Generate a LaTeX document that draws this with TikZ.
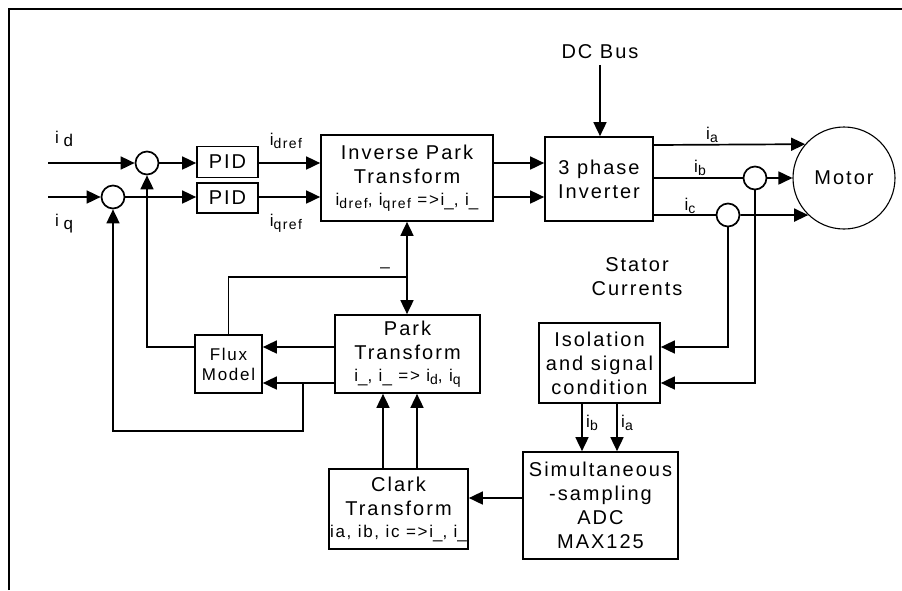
\documentclass[tikz,border=0pt]{standalone}
\usepackage{fontspec}
\setmainfont{Liberation Sans}[LetterSpace=10]
\usetikzlibrary{arrows.meta,calc}
\newcommand\mainsz{\fontsize{20}{24}\selectfont}
\newcommand\labsz{\fontsize{17}{20}\selectfont}
\newcommand\subsz{\fontsize{14}{14}\selectfont}
\newcommand\sbs[1]{\raisebox{-3pt}{\subsz #1}}
\newcommand\iu{i\raisebox{-1pt}{\_}}
\begin{document}
\begin{tikzpicture}[x=1pt,y=-1pt,
  line width=1.7pt,
  box/.style={draw, rectangle, inner sep=0pt, align=center, font=\mainsz},
  sum/.style={draw, circle, minimum size=23pt, inner sep=0pt},
  txt/.style={inner sep=0pt, align=center, font=\mainsz},
  lab/.style={inner sep=0pt, font=\labsz},
  arr/.style={-{Triangle[length=14pt,width=13pt]}},
  arrb/.style={{Triangle[length=14pt,width=13pt]}-{Triangle[length=14pt,width=13pt]}}]
\useasboundingbox (0,0) rectangle (902,590);
\draw[line width=2pt] (9,590) -- (9,9) -- (902,9);
% blocks
\node[box, minimum width=61pt, minimum height=31pt] (pid1) at (227.5,162) {PID};
\node[box, minimum width=61pt, minimum height=30pt] (pid2) at (227.5,198) {PID};
\node[box, minimum width=172pt, minimum height=86pt] (ipark) at (407,178)
  {Inverse Park\\Transform\\[-2pt]{\labsz i\sbs{dref}, i\sbs{qref} =>\iu, \iu}};
\node[box, minimum width=108pt, minimum height=84pt] (inv) at (599,179) {3 phase\\Inverter};
\node[draw, circle, minimum size=102pt, inner sep=0pt, line width=1.1pt, font=\mainsz] (mot) at (844,178) {Motor};
\node[box, minimum width=121pt, minimum height=80pt] (isol) at (599.5,363) {Isolation\\and signal\\condition};
\node[box, minimum width=155pt, minimum height=107pt] (adc) at (600.5,505.5) {Simultaneous\\-sampling\\ADC\\MAX125};
\node[box, minimum width=139pt, minimum height=80pt] (clark) at (398.5,509)
  {Clark\\Transform\\[-2pt]{\labsz ia, ib, ic =>\iu, \iu}};
\node[box, minimum width=145pt, minimum height=78pt] (park) at (407.5,354)
  {Park\\Transform\\[-2pt]{\labsz \iu, \iu\ => i\sbs{d}, i\sbs{q}}};
\node[box, minimum width=67pt, minimum height=58pt, font=\labsz] (flux) at (228.5,364) {Flux\\Model};
% summing junctions
\node[sum] (c1) at (147,163) {};
\node[sum] (c2) at (113,197) {};
\node[sum] (cb) at (755,178) {};
\node[sum] (cc) at (728,215) {};
% helper coordinates
\coordinate (idin) at (48,163);
\coordinate (iqin) at (48,197);
\coordinate (ya) at (0,145);
\coordinate (yb) at (0,178);
\coordinate (yc) at (0,215);
\coordinate (y347) at (0,347);
\coordinate (y383) at (0,383);
\coordinate (y431) at (0,431);
\coordinate (y498) at (0,498);
\coordinate (xb) at (582,0);
\coordinate (xa) at (617,0);
\coordinate (k1) at (383,0);
\coordinate (k2) at (417,0);
\coordinate (br) at (407,277);
\coordinate (b2) at (303,383);
% texts
\node[txt] (dc) at (600,52) {DC Bus};
\node[txt] (stat) at (637,277) {Stator\\Currents};
\node[lab] at (64,139) {i\;\raisebox{-3pt}{d}};
\node[lab] at (64,224) {i\;\raisebox{-3pt}{q}};
\node[lab] at (286,141) {i\sbs{dref}};
\node[lab] at (286,223) {i\sbs{qref}};
\node[lab] at (712,135) {i\sbs{a}};
\node[lab] at (700,168) {i\sbs{b}};
\node[lab] at (690,206) {i\sbs{c}};
\node[lab] at (592,423) {i\sbs{b}};
\node[lab] at (627,423) {i\sbs{a}};
\node[lab] at (385,267) {\_};
% connectors
\draw[arr] (idin) -- (c1);
\draw[arr] (iqin) -- (c2);
\draw[arr] (c1) -- (pid1.west |- c1);
\draw[arr] (c2) -- (pid2.west |- c2);
\draw[arr] (pid1.east |- c1) -- (ipark.west |- c1);
\draw[arr] (pid2.east |- c2) -- (ipark.west |- c2);
\draw[arr] (ipark.east |- c1) -- (inv.west |- c1);
\draw[arr] (ipark.east |- c2) -- (inv.west |- c2);
\draw[arr, shorten <=5pt] (dc.south) -- (dc.south |- inv.north);
\draw[arr] (inv.east |- ya) -- (mot.139.7);
\draw (inv.east |- yb) -- (cb);
\draw[arr] (cb) -- (mot.west);
\draw (inv.east |- yc) -- (cc);
\draw[arr] (cc) -- (mot.226.5);
\draw[arr] (cc.south) |- (isol.east |- y347);
\draw[arr] (cb.south) |- (isol.east |- y383);
\draw[arr] (xb |- isol.south) -- (xb |- adc.north);
\draw[arr] (xa |- isol.south) -- (xa |- adc.north);
\draw[arr] (adc.west |- y498) -- (clark.east |- y498);
\draw[arr] (k1 |- clark.north) -- (k1 |- park.south);
\draw[arr] (k2 |- clark.north) -- (k2 |- park.south);
\draw[arrb] (ipark.south) -- (ipark.south |- park.north);
\draw (br) -| (flux.north);
\draw[arr] (park.west |- y347) -- (flux.east |- y347);
\draw[arr] (park.west |- y383) -- (flux.east |- y383);
\draw[arr] (flux.west |- y347) -| (c1.south);
\draw[arr] (b2) -- (b2 |- y431) -| (c2.south);
\end{tikzpicture}
\end{document}
